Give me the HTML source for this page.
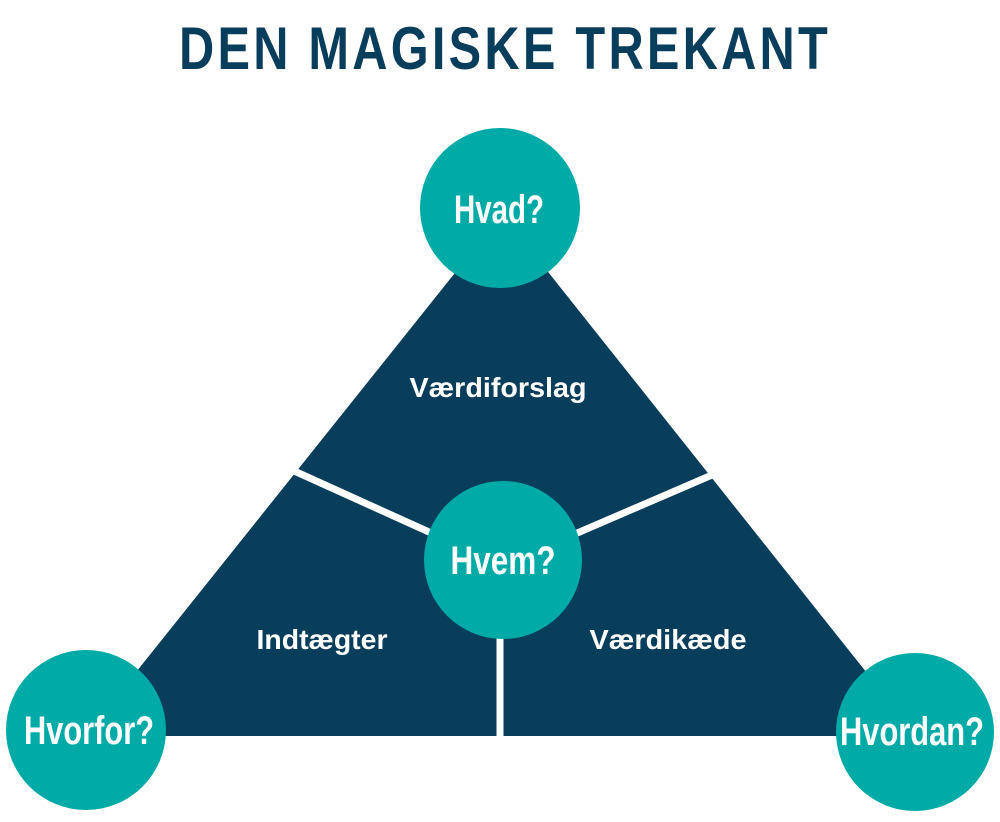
<!DOCTYPE html>
<html><head><meta charset="utf-8"><style>html,body{margin:0;padding:0;background:#fff}svg{display:block}</style></head>
<body>
<svg width="1000" height="822" viewBox="0 0 1000 822" xmlns="http://www.w3.org/2000/svg" font-family="'Liberation Sans Narrow','Liberation Sans',sans-serif">
<text x="505" y="69" text-anchor="middle" font-size="60" font-weight="bold" fill="#093d5c" letter-spacing="4" textLength="652" lengthAdjust="spacingAndGlyphs">DEN MAGISKE TREKANT</text>
<polygon points="502,214 917,736 85,736" fill="#093d5c"/>
<line x1="292" y1="470" x2="440" y2="537" stroke="#fff" stroke-width="7"/>
<line x1="712" y1="475" x2="568" y2="537" stroke="#fff" stroke-width="7"/>
<line x1="500" y1="620" x2="500" y2="740" stroke="#fff" stroke-width="7"/>
<circle cx="500" cy="208" r="80" fill="#00aaa7"/>
<circle cx="503" cy="560" r="79" fill="#00aaa7"/>
<circle cx="86" cy="730" r="80" fill="#00aaa7"/>
<circle cx="915" cy="732" r="79" fill="#00aaa7"/>
<g fill="#fff" text-anchor="middle" font-weight="bold">
<text x="499" y="223" font-size="40" textLength="90" lengthAdjust="spacingAndGlyphs">Hvad?</text>
<text x="503" y="574" font-size="40" textLength="105" lengthAdjust="spacingAndGlyphs">Hvem?</text>
<text x="89" y="744" font-size="40" textLength="130" lengthAdjust="spacingAndGlyphs">Hvorfor?</text>
<text x="912" y="745" font-size="40" textLength="144" lengthAdjust="spacingAndGlyphs">Hvordan?</text>
<text x="498" y="397" font-size="28" textLength="177" lengthAdjust="spacingAndGlyphs">Værdiforslag</text>
<text x="322" y="649" font-size="28" textLength="131" lengthAdjust="spacingAndGlyphs">Indtægter</text>
<text x="668" y="649" font-size="28" textLength="157" lengthAdjust="spacingAndGlyphs">Værdikæde</text>
</g>
</svg>
</body></html>
